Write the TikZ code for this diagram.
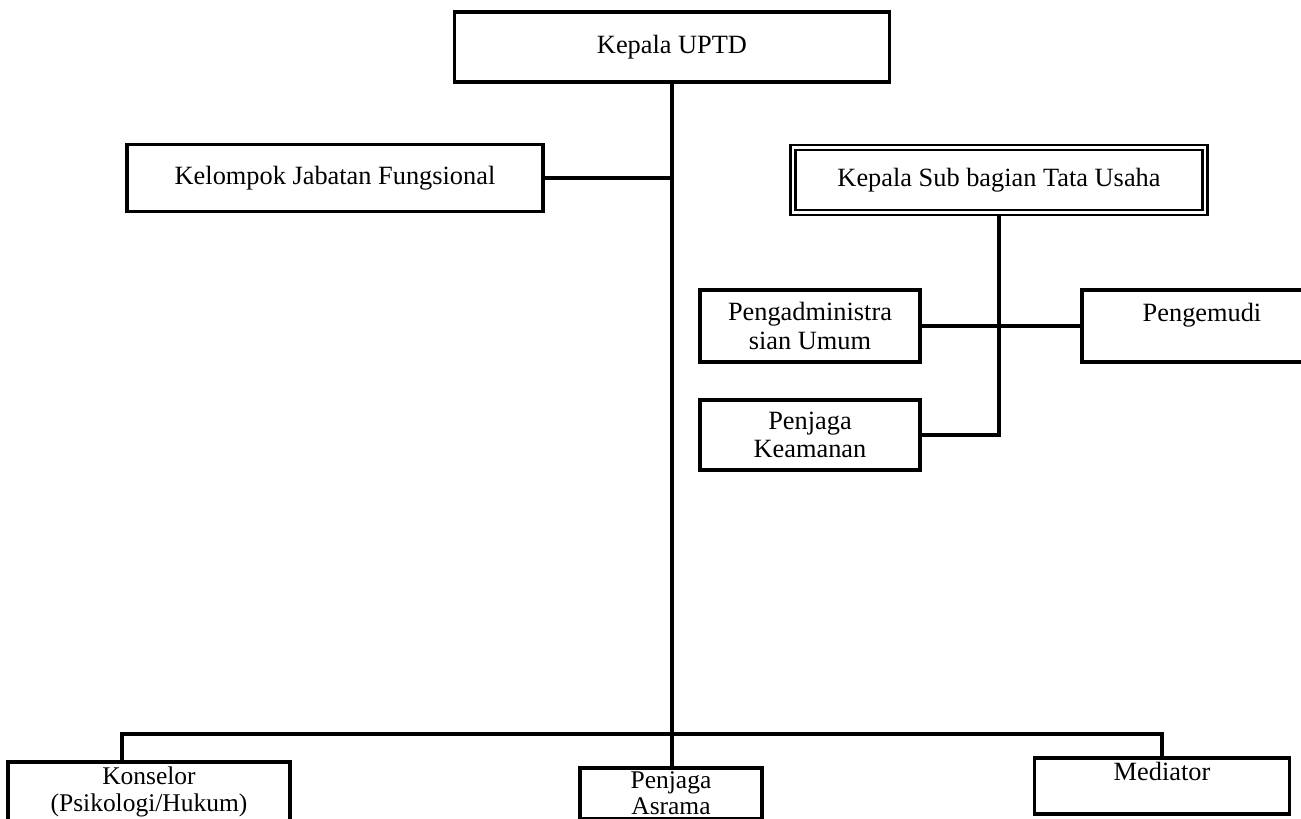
\documentclass[tikz,border=0pt]{standalone}
\usepackage{fontspec}
\setmainfont{Liberation Serif}
\usepackage{tikz}
\usetikzlibrary{positioning, calc}

\begin{document}
\begin{tikzpicture}[
  x=0.02cm, y=-0.02cm,
  box/.style={rectangle, draw, line width=2pt, align=center, font=\fontsize{15}{16}\selectfont, inner sep=0pt},
  subbox/.style={box, double, double distance=1.2pt, line width=1.5pt},
  lowbox/.style={box, anchor=north, inner ysep=2pt, font=\fontsize{14.5}{15}\selectfont},
  link/.style={line width=2pt}
]
  \useasboundingbox (0,0) rectangle (1301,818);
  \node[box, minimum width=435*0.02cm, minimum height=70*0.02cm] (uptd) at (672,47) {Kepala UPTD};
  \node[box, minimum width=416*0.02cm, minimum height=67*0.02cm] (kjf) at (335,178) {Kelompok Jabatan Fungsional};
  \node[subbox, minimum width=412*0.02cm, minimum height=65*0.02cm] (ksub) at (999,180) {Kepala Sub bagian Tata Usaha};
  \node[box, minimum width=220*0.02cm, minimum height=72*0.02cm] (adm) at (810,326) {Pengadministra\\sian Umum};
  \node[box, minimum width=240*0.02cm, minimum height=72*0.02cm] (drv) at (1202,326) {Pengemudi\\\mbox{}};
  \node[box, minimum width=220*0.02cm, minimum height=70*0.02cm] (sec) at (810,435) {Penjaga\\Keamanan};
  \node[lowbox, minimum width=282*0.02cm, minimum height=60*0.02cm] (kons) at (149,760) {Konselor\\(Psikologi/Hukum)};
  \node[lowbox, minimum width=182*0.02cm] (asr) at (671,766) {Penjaga\\Asrama};
  \node[lowbox, minimum width=255*0.02cm, minimum height=56*0.02cm, font=\fontsize{15}{16}\selectfont] (med) at (1162,756) {Mediator\\\mbox{}};

  % garis komando
  \coordinate (bus) at (122,734);
  \draw[link] (uptd.south) -- (uptd.south |- asr.north);
  \draw[link] (kjf.east) -- (kjf.east -| uptd.south);
  \draw[link] (bus |- kons.north) -- (bus) -- (bus -| med.north) -- (med.north);
  \draw[link] (ksub.south) -- (ksub.south |- sec.east) -- (sec.east);
  \draw[link] (adm.east) -- (drv.west);
\end{tikzpicture}
\end{document}
